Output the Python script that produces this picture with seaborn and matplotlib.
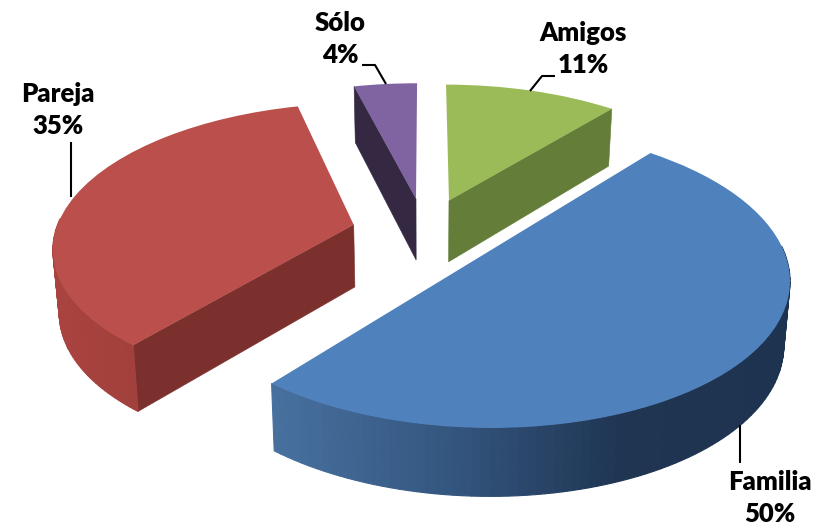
import numpy as np
import seaborn as sns
import matplotlib.pyplot as plt
from matplotlib.patches import Polygon
from matplotlib.transforms import Transform

categories = ["Amigos", "Familia", "Pareja", "Sólo"]
shares = [11, 50, 35, 4]

top_colors = ["#9bbb59", "#4f81bd", "#bb4f4c", "#8064a2"]
radial_colors = ["#647d38", "#1e3350", "#7c302e", "#352842"]
arc_colors = [["#647d38", "#647d38"],
              ["#47709f", "#34567f", "#1f3552", "#1d3350"],
              ["#a9433f", "#933a37"],
              ["#352842", "#352842"]]

# fitted against the corners of the slices in the reference
X0, Y0, A, B, K, M = 424.9, 232.3, 297.0, 141.0, 0.1433, 0.0031
EXPLODE = 0.2474
CONVERGE = 0.983


class Perspective(Transform):
    input_dims = 2
    output_dims = 2

    def transform_non_affine(self, values):
        u, v = values[:, 0], values[:, 1]
        w = 1 + K * v + M * u
        return np.column_stack([X0 + A * u / w, Y0 - B * v / w])


def extrude(points, v):
    # lower rim of the slice, deeper towards the viewer
    low = points.copy()
    low[:, 0] = X0 + (points[:, 0] - X0) * CONVERGE
    low[:, 1] = points[:, 1] + 62.5 - 5.2 * v
    return low


sns.set_theme(style="white")
plt.rcParams["font.family"] = ["Lato", "DejaVu Sans"]

fig = plt.figure(figsize=(8.23, 5.28), dpi=100)
ax = fig.add_axes([0, 0, 1, 1])

wedges, _ = ax.pie(shares, explode=[EXPLODE] * len(shares), startangle=90, counterclock=False,
                   colors=sns.color_palette(top_colors), radius=1, wedgeprops={"edgecolor": "none", "linewidth": 0})
persp = Perspective()

for i, wedge in enumerate(wedges):
    wedge.set_transform(persp + ax.transData)
    wedge.set_zorder(5)

    ang = np.radians(np.linspace(wedge.theta1, wedge.theta2, 120))
    uv = np.column_stack([wedge.center[0] + wedge.r * np.cos(ang), wedge.center[1] + wedge.r * np.sin(ang)])
    top = persp.transform_non_affine(uv)
    low = extrude(top, uv[:, 1])

    apex_uv = np.array([wedge.center])
    apex_top = persp.transform_non_affine(apex_uv)
    apex_low = extrude(apex_top, apex_uv[:, 1])

    # only the walls that face the viewer
    normals = [ang[0] - np.pi / 2, ang[-1] + np.pi / 2]
    for end, normal in zip((0, -1), normals):
        if np.sin(normal) < -1e-6:
            quad = [apex_top[0], top[end], low[end], apex_low[0]]
            ax.add_patch(Polygon(quad, facecolor=radial_colors[i], edgecolor=radial_colors[i], lw=0.4, zorder=2))

    shades = sns.blend_palette(arc_colors[i], 120)
    order = np.clip((top[:, 0] - top[:, 0].min()) / (np.ptp(top[:, 0]) + 1e-6), 0, 1)
    for j in range(len(ang) - 1):
        if np.sin(ang[j]) > 0.05:
            continue
        quad = [top[j], top[j + 1], low[j + 1], low[j]]
        col = shades[int(order[j] * 119)]
        ax.add_patch(Polygon(quad, facecolor=col, edgecolor=col, lw=0.8, zorder=3))

ax.set_xlim(0, 823)
ax.set_ylim(528, 0)
ax.set_aspect("auto")
ax.axis("off")

label_pos = [(583, 49), (770, 498), (58, 110), (340, 39)]
leaders = [[(555, 76), (542, 76), (530, 91)],
           [(740, 425), (740, 463)],
           [(71, 142), (71, 197)],
           [(362, 65), (375, 65), (386, 84)]]

for name, share, pos, line in zip(categories, shares, label_pos, leaders):
    ax.text(pos[0], pos[1], f"{name}\n{share}%", ha="center", va="center", fontsize=18.5,
            fontweight="heavy", color="black", linespacing=1.37, zorder=7)
    xs, ys = zip(*line)
    ax.plot(xs, ys, color="black", lw=1.5, zorder=6, solid_capstyle="butt")

fig.savefig("out.png", dpi=100)
